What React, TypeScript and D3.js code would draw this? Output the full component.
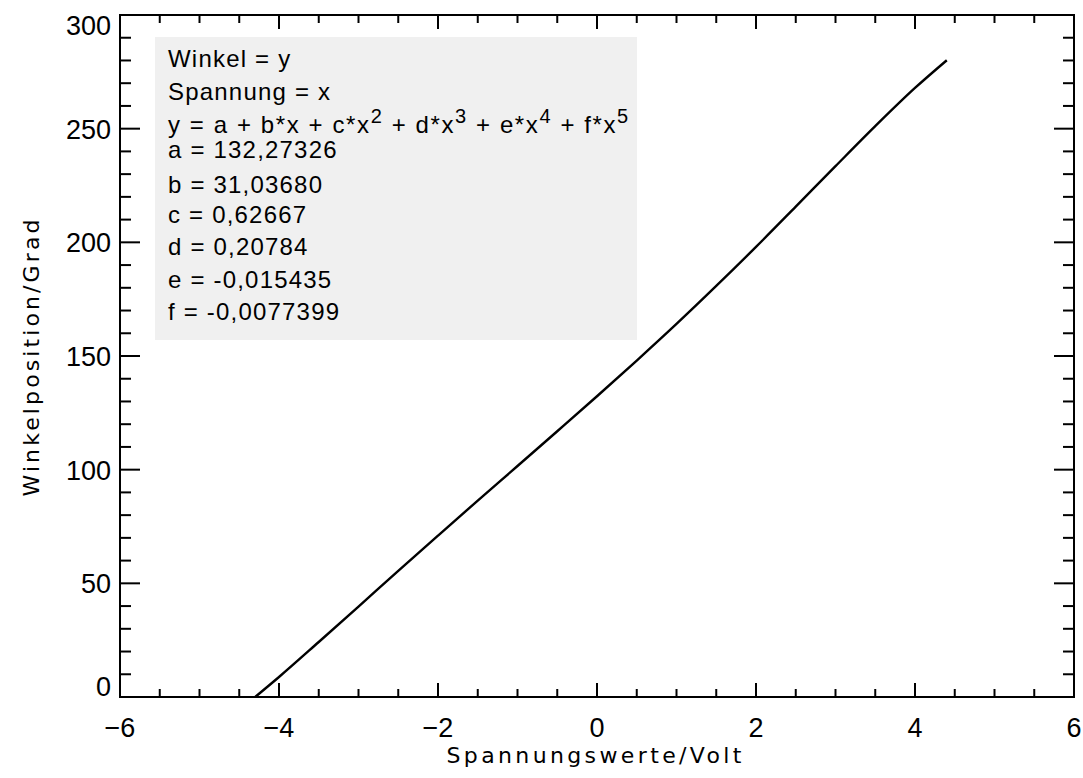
import React from "react";
import * as d3 from "d3";

const voltage = [-4.3, -4.0, -3.5, -3.0, -2.5, -2.0, -1.5, -1.0, -0.5, 0.0, 0.5, 1.0, 1.5, 2.0, 2.5, 3.0, 3.5, 4.0, 4.4];
const angle = [0.0, 8.8, 24.2, 39.8, 55.5, 71.0, 86.4, 101.6, 116.9, 132.3, 148.0, 164.1, 180.8, 198.0, 215.7, 233.5, 251.1, 267.9, 280.1];

const xMajor = [-6, -4, -2, 0, 2, 4, 6];
const xMinor = d3.range(-6, 6.001, 0.5);
const yMajor = [0, 50, 100, 150, 200, 250, 300];
const yMinor = d3.range(0, 300.001, 10);

const legendLines = [
  "Winkel = y",
  "Spannung = x",
  "",
  "a = 132,27326",
  "b = 31,03680",
  "c = 0,62667",
  "d = 0,20784",
  "e = -0,015435",
  "f = -0,0077399",
];
const legendBaselines = [67, 100, 133, 158, 193, 223, 255, 288, 320];

const W = 1083;
const H = 778;
const L = 120, R = 1074, T = 15, B = 697;

export default function App() {
  const x = d3.scaleLinear().domain([-6, 6]).range([L, R]);
  const y = d3.scaleLinear().domain([0, 300]).range([B, T]);
  const pts: [number, number][] = voltage.map((v, i) => [v, angle[i]]);
  const line = d3
    .line<[number, number]>()
    .x((d) => x(d[0]))
    .y((d) => y(d[1]))
    .curve(d3.curveMonotoneX);

  const isMajorX = (v: number) => xMajor.some((m) => Math.abs(m - v) < 1e-6);
  const isMajorY = (v: number) => yMajor.some((m) => Math.abs(m - v) < 1e-6);
  const tickFont = "'Liberation Sans', Arial, sans-serif";
  const legFont = "'Liberation Sans', Arial, sans-serif";
  const sup = { fontSize: 20 } as const;

  return (
    <svg width={W} height={H} style={{ position: "absolute", left: 0, top: 0, background: "#fff" }}>
      <rect x={0} y={0} width={W} height={H} fill="#fff" />
      {/* legend box */}
      <rect x={155} y={37} width={482} height={303} fill="#f0f0f0" />
      <g fontFamily={legFont} fontSize={24} fill="#000" style={{ letterSpacing: "1.2px" }}>
        {legendLines.map((t, i) =>
          t ? (
            <text key={i} x={168} y={legendBaselines[i]}>
              {t}
            </text>
          ) : null
        )}
        <text x={168} y={legendBaselines[2]} style={{ letterSpacing: "1.6px" }}>
          <tspan>{"y = a + b*x  + c*x"}</tspan>
          <tspan dy={-10} style={sup}>2</tspan>
          <tspan dy={10}>{" + d*x"}</tspan>
          <tspan dy={-10} style={sup}>3</tspan>
          <tspan dy={10}>{" + e*x"}</tspan>
          <tspan dy={-10} style={sup}>4</tspan>
          <tspan dy={10}>{" + f*x"}</tspan>
          <tspan dy={-10} style={sup}>5</tspan>
        </text>
      </g>

      {/* data line */}
      <path d={line(pts) || ""} fill="none" stroke="#000" strokeWidth={2.4} />

      {/* frame */}
      <rect x={L} y={T} width={R - L} height={B - T} fill="none" stroke="#000" strokeWidth={2} />

      {/* x ticks */}
      {xMinor.map((v, i) => {
        const len = isMajorX(v) ? 14 : 8;
        const px = x(v);
        return (
          <g key={"xt" + i} stroke="#000" strokeWidth={2}>
            <line x1={px} x2={px} y1={B} y2={B - len} />
            <line x1={px} x2={px} y1={T} y2={T + len} />
          </g>
        );
      })}
      {/* y ticks */}
      {yMinor.map((v, i) => {
        const len = isMajorY(v) ? 20 : 11;
        const py = y(v);
        return (
          <g key={"yt" + i} stroke="#000" strokeWidth={2}>
            <line x1={L} x2={L + len} y1={py} y2={py} />
            <line x1={R} x2={R - len} y1={py} y2={py} />
          </g>
        );
      })}

      {/* x tick labels */}
      <g fontFamily={tickFont} fontSize={27} fill="#000" textAnchor="middle">
        {xMajor.map((v, i) => (
          <text key={"xl" + i} x={x(v)} y={737}>
            {v < 0 ? "\u2212" + Math.abs(v) : String(v)}
          </text>
        ))}
      </g>
      {/* y tick labels */}
      <g fontFamily={tickFont} fontSize={27} fill="#000" textAnchor="end">
        {yMajor.map((v, i) => {
          let cy = y(v);
          if (v === 0) cy = 686;
          if (v === 300) cy = 25;
          return (
            <text key={"yl" + i} x={111} y={cy + 10}>
              {String(v)}
            </text>
          );
        })}
      </g>

      {/* axis titles */}
      <text
        x={594}
        y={763}
        textAnchor="middle"
        fontFamily="'DejaVu Sans', sans-serif"
        fontSize={22}
        textLength={295}
        lengthAdjust="spacing"
      >
        Spannungswerte/Volt
      </text>
      <text
        transform={`translate(39,358) rotate(-90)`}
        textAnchor="middle"
        fontFamily="'DejaVu Sans', sans-serif"
        fontSize={22}
        textLength={277}
        lengthAdjust="spacing"
      >
        Winkelposition/Grad
      </text>
    </svg>
  );
}
